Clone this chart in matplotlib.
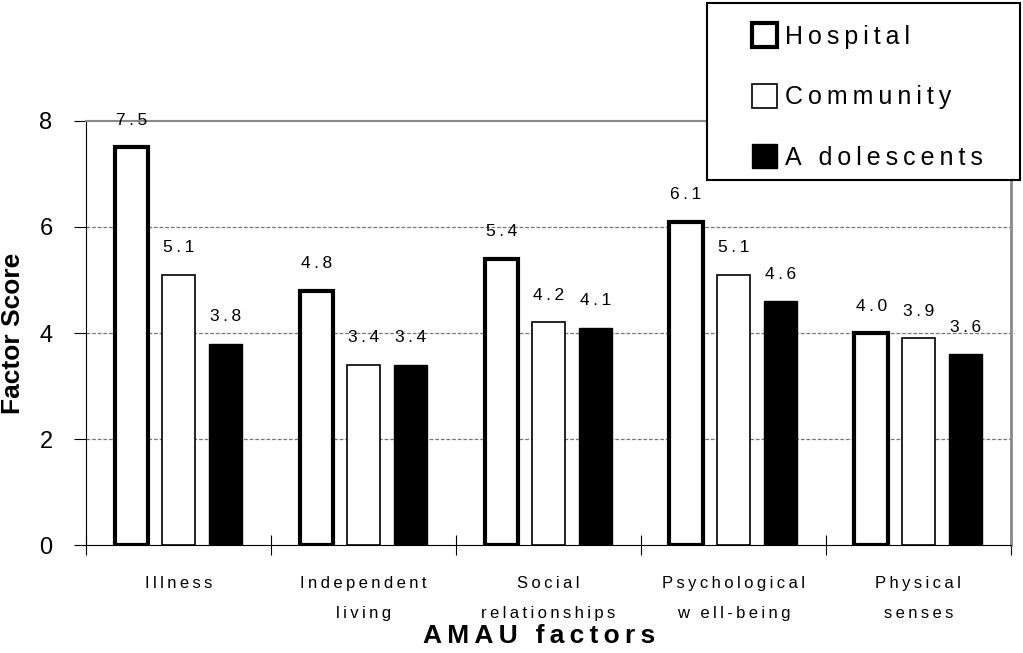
import matplotlib
matplotlib.use("Agg")
import matplotlib.pyplot as plt
import numpy as np
from matplotlib.patches import Patch, Rectangle

CATEGORIES = ["Illness", "Independent\nliving", "Social\nrelationships",
              "Psychological\nw ell-being", "Physical\nsenses"]
HOSPITAL = [7.5, 4.8, 5.4, 6.1, 4.0]
COMMUNITY = [5.1, 3.4, 4.2, 5.1, 3.9]
ADOLESCENTS = [3.8, 3.4, 4.1, 4.6, 3.6]
SERIES = ["Hospital", "Community", "A dolescents"]

plt.rcParams["font.family"] = ["Liberation Sans", "DejaVu Sans"]

TS = "\u2009"  # thin space used as letter spacing


def spaced(s):
    return "\n".join(TS.join(line) for line in s.split("\n"))


fig = plt.figure(figsize=(10.23, 6.53), dpi=100)
ax = fig.add_axes([0.084, 0.165, 0.904, 0.650])

x = np.arange(len(CATEGORIES))
width = 0.18
offset = 0.255
styles = [
    dict(facecolor="white", edgecolor="black", linewidth=3.0),
    dict(facecolor="white", edgecolor="black", linewidth=1.2),
    dict(facecolor="black", edgecolor="black", linewidth=1.0),
]
for i, (vals, st) in enumerate(zip([HOSPITAL, COMMUNITY, ADOLESCENTS], styles)):
    bars = ax.bar(x + (i - 1) * offset, vals, width, zorder=3, **st)
    for bar, v in zip(bars, vals):
        ax.annotate(spaced(f"{v:.1f}"),
                    xy=(bar.get_x() + bar.get_width() / 2, v),
                    xytext=(0, 14), textcoords="offset points",
                    ha="center", va="bottom", fontsize=12.5)

ax.set_xlim(-0.5, 4.5)
ax.set_ylim(0, 8)
ax.set_yticks([0, 2, 4, 6, 8])
ax.tick_params(axis="y", direction="out", length=9, labelsize=17, pad=15)
for y in [2, 4, 6]:
    ax.axhline(y, color="#777777", linestyle=(0, (3, 1.5)), linewidth=0.9, zorder=1)

ax.set_xticks(np.arange(-0.5, 5, 1))
ax.set_xticklabels([])
ax.set_xticks(x, minor=True)
ax.set_xticklabels([spaced(c) for c in CATEGORIES], minor=True, fontsize=12)
for lbl in ax.get_xticklabels(minor=True):
    lbl.set_linespacing(2.25)
ax.tick_params(axis="x", which="major", direction="inout", length=14)
ax.tick_params(axis="x", which="minor", length=0, pad=22)

ax.spines["top"].set_color("#8a8a8a")
ax.spines["right"].set_color("#8a8a8a")
ax.spines["top"].set_linewidth(1.5)
ax.spines["right"].set_linewidth(2)

ax.set_ylabel("Factor Score", fontsize=19, fontweight="bold")
ax.yaxis.set_label_coords(-0.066, 0.5)
ax.set_xlabel(spaced("AMAU factors"), fontsize=19, fontweight="bold")
ax.xaxis.set_label_coords(0.49, -0.185)

# legend box drawn as a plain rectangle, entries placed inside it
fig.patches.append(Rectangle((0.691, 0.724), 0.306, 0.271, transform=fig.transFigure,
                             facecolor="white", edgecolor="black", linewidth=1.5,
                             zorder=5))
handles = [Patch(**st) for st in styles]
leg = fig.legend(handles, [spaced(s) for s in SERIES], loc="upper left",
                 bbox_to_anchor=(0.728, 0.976), fontsize=18, frameon=False,
                 handlelength=1.0, handleheight=1.1, handletextpad=0.3,
                 labelspacing=1.4, borderpad=0.3, borderaxespad=0)
leg.set_zorder(6)

plt.savefig("out.png", dpi=100)
